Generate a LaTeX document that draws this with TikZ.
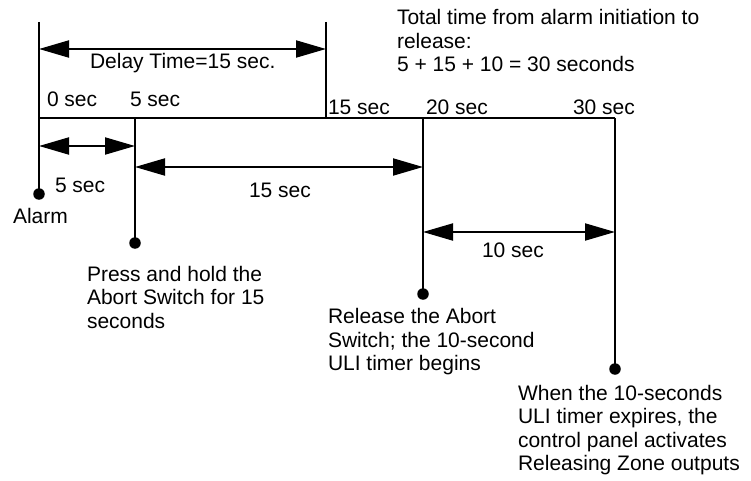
\documentclass[tikz,border=0pt]{standalone}
\usepackage{fontspec}
\setmainfont{Liberation Sans}
\usetikzlibrary{arrows.meta}
\begin{document}
\begin{tikzpicture}[x=1pt,y=-1pt,
  every node/.style={inner sep=0pt,outer sep=0pt,font=\fontsize{21}{23.5}\selectfont},
  tline/.style={line width=2pt},
  dimarrow/.style={line width=2pt,{Triangle[length=30pt,width=17pt]}-{Triangle[length=30pt,width=17pt]}},
  evdot/.style={circle,fill=black,minimum size=11.5pt},
  lbl/.style={anchor=base west},
  txt/.style={anchor=north west,align=left}]
\useasboundingbox (0,0) rectangle (751,481);
% coordinates
\coordinate (t0top) at (39,22);
\coordinate (t0) at (39,118);
\coordinate (dtop) at (326,22);
\coordinate (d15) at (326,118);
\coordinate (t5) at (135,118);
\coordinate (t20) at (423,118);
\coordinate (t30) at (615,118);
\coordinate (a1l) at (39,49);   \coordinate (a1r) at (326,49);
\coordinate (a2l) at (39,146);  \coordinate (a2r) at (135,146);
\coordinate (a3l) at (135,167); \coordinate (a3r) at (423,167);
\coordinate (a4l) at (423,232); \coordinate (a4r) at (615,232);
% dots
\node[evdot] (alarm) at (39,194) {};
\node[evdot] (press) at (135,243) {};
\node[evdot] (release) at (423,294) {};
\node[evdot] (expire) at (615,369) {};
% lines
\draw[tline] (t0top) -- (alarm.center);
\draw[tline] (dtop) -- (d15);
\draw[tline] (t0) -- (t30);
\draw[tline] (t5) -- (press.center);
\draw[tline] (t20) -- (release.center);
\draw[tline] (t30) -- (expire.center);
% dimension arrows
\draw[dimarrow] (a1l) -- (a1r);
\draw[dimarrow] (a2l) -- (a2r);
\draw[dimarrow] (a3l) -- (a3r);
\draw[dimarrow] (a4l) -- (a4r);
% labels
\node[txt] (total) at (397,9.7) {Total time from alarm initiation to\\release:\\5 + 15 + 10 = 30 seconds};
\node[lbl] (delay) at (90,69) {Delay Time=15 sec.};
\node[lbl] (s0) at (47,107) {0 sec};
\node[lbl] (s5) at (130,107) {5 sec};
\node[lbl] (s15) at (328,115) {15 sec};
\node[lbl] (s20) at (426,115) {20 sec};
\node[lbl] (s30) at (573,115) {30 sec};
\node[lbl] (d5) at (55,192) {5 sec};
\node[lbl] (d15l) at (249,197) {15 sec};
\node[lbl] (d10) at (482,257) {10 sec};
\node[lbl] (alarmtxt) at (13,223) {Alarm};
\node[txt] (presstxt) at (87,266) {Press and hold the\\Abort Switch for 15\\seconds};
\node[txt] (reltxt) at (328,308.5) {Release the Abort\\Switch; the 10-second\\ULI timer begins};
\node[txt] (exptxt) at (518,385) {When the 10-seconds\\ULI timer expires, the\\control panel activates\\Releasing Zone outputs};
\end{tikzpicture}
\end{document}
